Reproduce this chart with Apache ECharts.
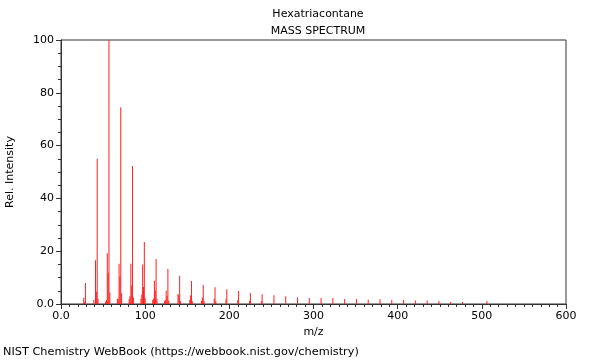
<!DOCTYPE html>
<html><head><meta charset="utf-8">
<script src="https://cdn.jsdelivr.net/npm/echarts@6/dist/echarts.min.js"></script>
<style>html,body{margin:0;padding:0;background:#fff}#c{width:600px;height:360px}</style>
</head><body><div id="c"></div>
<script>
const titleText = "Hexatriacontane";
const subtitleText = "MASS SPECTRUM";
const footerText = "NIST Chemistry WebBook (https://webbook.nist.gov/chemistry)";
const mzValues = [27,28,29,39,41,42,43,44,53,54,55,56,57,58,67,68,69,70,71,72,81,82,83,84,85,86,95,96,97,98,99,100,109,110,111,112,113,114,123,124,125,126,127,128,139,140,141,142,153,154,155,156,167,168,169,170,182,183,184,196,197,210,211,224,225,238,239,253,267,281,295,309,323,337,351,365,379,393,407,421,435,449,463,477,506];
const intensities = [2.4,0.7,8,1.5,16.6,4.6,55,2,0.9,1.5,19.2,11.8,100,4.4,2,2,15.2,10.4,74.5,4.1,2,3,15.2,7,52.3,2.5,2,3.6,15,6.4,23.5,2.4,1.5,2,8.8,5,17,1.9,1,1.5,5,3,13.3,1.2,3.8,3.4,10.7,1,1.5,3.2,8.7,1,1.2,2.5,7.2,1,2,6.3,1,1.8,5.6,1.5,4.9,1.2,4.2,1,3.7,3.3,2.9,2.5,2.3,2.3,2.3,1.9,1.9,1.6,1.8,1.5,1.5,1.3,1.3,1.1,0.8,0.8,1.1];
const xTicks = {min:0,max:600,step:100};
const yTicks = {min:0,max:100,step:20};

const chart = echarts.init(document.getElementById('c'), null, {renderer:'canvas'});
const font = 'DejaVu Sans';
chart.setOption({
  animation:false,
  backgroundColor:'#fff',
  title:[
    {text:titleText, left:313, top:4, textAlign:'center', textStyle:{fontFamily:font,fontSize:11,fontWeight:'normal',color:'#000'}},
    {text:subtitleText, left:313, top:21, textAlign:'center', textStyle:{fontFamily:font,fontSize:11,fontWeight:'normal',color:'#000'}},
    {text:footerText, left:3, top:347, padding:0, textStyle:{fontFamily:font,fontSize:11.3,fontWeight:'normal',color:'#000'}}
  ],
  grid:{left:61,right:34,top:40,bottom:56,containLabel:false,outerBoundsMode:'none',show:true,borderColor:'#333',borderWidth:1,backgroundColor:'transparent'},
  xAxis:{type:'value',min:xTicks.min,max:xTicks.max,interval:xTicks.step,
    name:'m/z',nameLocation:'middle',nameGap:23,nameTextStyle:{fontFamily:font,fontSize:11,color:'#000'},
    axisLine:{lineStyle:{color:'#333'}},
    axisTick:{length:5,lineStyle:{color:'#333'}},
    minorTick:{show:true,splitNumber:10,length:3,lineStyle:{color:'#333'}},
    splitLine:{show:false},
    axisLabel:{fontFamily:font,fontSize:11,color:'#000',margin:7,formatter:v=>v===0?'0.0':String(v)}},
  yAxis:{type:'value',min:yTicks.min,max:yTicks.max,interval:yTicks.step,
    name:'Rel. Intensity',nameLocation:'middle',nameGap:45,nameTextStyle:{fontFamily:font,fontSize:11,color:'#000'},
    axisLine:{show:true,lineStyle:{color:'#333'}},
    axisTick:{show:true,length:5,lineStyle:{color:'#333'}},
    minorTick:{show:true,splitNumber:4,length:3,lineStyle:{color:'#333'}},
    splitLine:{show:false},
    axisLabel:{fontFamily:font,fontSize:11,color:'#000',margin:7,formatter:v=>v===0?'0.0':String(v)}},
  series:[{type:'bar',barWidth:1,barGap:'-100%',
    itemStyle:{color:'#ff2020'},
    data:mzValues.map((m,i)=>[m,intensities[i]])}]
});
</script></body></html>
